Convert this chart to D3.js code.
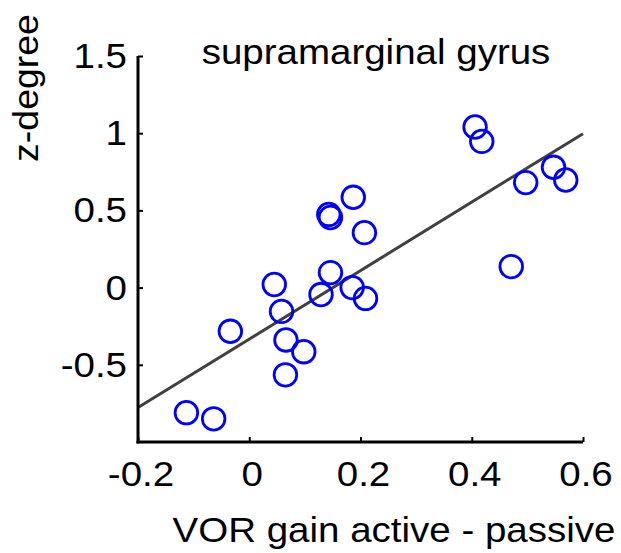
<!DOCTYPE html>
<html>
<head>
<meta charset="utf-8">
<script src="https://cdn.jsdelivr.net/npm/d3@7"></script>
<style>
  html, body { margin: 0; padding: 0; background: #fff; }
  text { font-family: "Liberation Sans", Arial, sans-serif; fill: #000; }
</style>
</head>
<body>
<div id="chart"></div>
<script>
// values
const gainDiff = [-0.113, -0.064, -0.034, 0.045, 0.058, 0.066, 0.098, 0.065, 0.129, 0.146, 0.185,
  0.209, 0.143, 0.146, 0.187, 0.207, 0.406, 0.418, 0.497, 0.547, 0.569, 0.471];
const zDegree = [-0.81, -0.85, -0.283, 0.02, -0.154, -0.339, -0.415, -0.565, -0.045, 0.097, 0.0,
  -0.07, 0.474, 0.454, 0.585, 0.356, 1.04, 0.947, 0.68, 0.779, 0.697, 0.136];
const fitX = [-0.2, 0.6];
const fitY = [-0.777, 0.997];
const xTicks = [-0.2, 0, 0.2, 0.4, 0.6];
const yTicks = [-0.5, 0, 0.5, 1, 1.5];

const width = 621, height = 553;
const plotLeft = 138, plotRight = 583, plotTop = 56, plotBottom = 442;
const stretch = 1.1;

const x = d3.scaleLinear().domain([-0.2, 0.6]).range([plotLeft, plotRight]);
const y = d3.scaleLinear().domain([-1, 1.5]).range([plotBottom, plotTop]);

const svg = d3.select('#chart').append('svg')
  .attr('width', width)
  .attr('height', height);

// fit line
svg.append('line')
  .attr('x1', x(fitX[0])).attr('y1', y(fitY[0]))
  .attr('x2', x(fitX[1])).attr('y2', y(fitY[1]))
  .attr('stroke', '#404040')
  .attr('stroke-width', 3);

// points
svg.append('g').selectAll('circle')
  .data(gainDiff.map((g, i) => ({g: g, z: zDegree[i]})))
  .join('circle')
  .attr('cx', d => x(d.g))
  .attr('cy', d => y(d.z))
  .attr('r', 11.3)
  .attr('fill', 'none')
  .attr('stroke', '#0000ff')
  .attr('stroke-width', 2.8);

// axes (matlab style: ticks inward, labels drawn separately)
const xAxis = svg.append('g')
  .attr('transform', `translate(0,${plotBottom})`)
  .call(d3.axisBottom(x).tickValues(xTicks).tickSizeInner(-5).tickSizeOuter(0).tickFormat(''));
const yAxis = svg.append('g')
  .attr('transform', `translate(${plotLeft},0)`)
  .call(d3.axisLeft(y).tickValues(yTicks).tickSizeInner(-5).tickSizeOuter(0).tickFormat(''));

[xAxis, yAxis].forEach(a => {
  a.select('.domain').attr('stroke', '#000').attr('stroke-width', 3);
  a.selectAll('.tick line').attr('stroke', '#000').attr('stroke-width', 2);
});
yAxis.select('.domain').attr('d', `M0,${plotTop}V${plotBottom + 1.5}`);
xAxis.select('.domain').attr('d', `M${plotLeft - 1.5},0H${plotRight}`);

// tick labels
const fmt = d => d3.format('')(d).replace('−', '-');
svg.append('g').selectAll('text')
  .data(xTicks)
  .join('text')
  .attr('transform', d => `translate(${x(d) + 3},${plotBottom + 44}) scale(${stretch},1)`)
  .attr('text-anchor', 'middle')
  .attr('font-size', 35)
  .text(fmt);

svg.append('g').selectAll('text')
  .data(yTicks)
  .join('text')
  .attr('transform', d => `translate(${plotLeft - 11},${y(d) + 12}) scale(${stretch},1)`)
  .attr('text-anchor', 'end')
  .attr('font-size', 35)
  .text(fmt);

// title and axis labels
svg.append('text')
  .attr('transform', `translate(376,64) scale(${stretch},1)`)
  .attr('text-anchor', 'middle')
  .attr('font-size', 35)
  .text('supramarginal gyrus');

svg.append('text')
  .attr('transform', `translate(394,542) scale(${stretch},1)`)
  .attr('text-anchor', 'middle')
  .attr('font-size', 35)
  .text('VOR gain active - passive');

svg.append('text')
  .attr('transform', 'translate(38,88) rotate(-90) scale(1.07,1)')
  .attr('text-anchor', 'middle')
  .attr('font-size', 35)
  .text('z-degree');
</script>
</body>
</html>
